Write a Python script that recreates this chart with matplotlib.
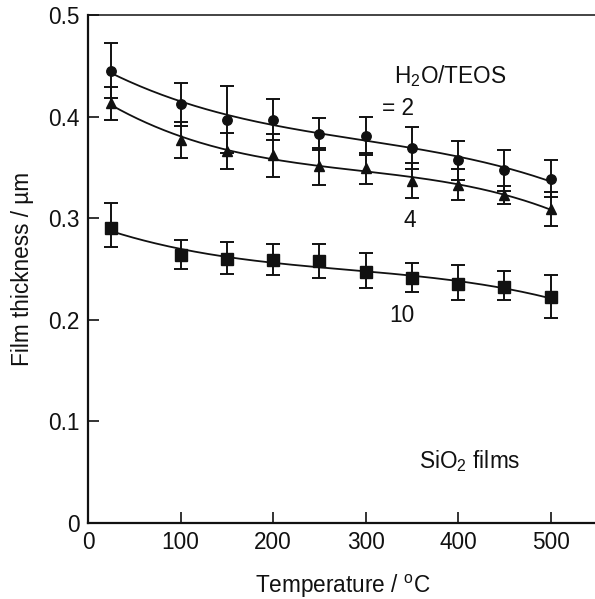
import numpy as np
import matplotlib
matplotlib.use("Agg")
import matplotlib.pyplot as plt

plt.rcParams['font.family'] = ['Liberation Sans', 'DejaVu Sans']
plt.rcParams['mathtext.fontset'] = 'custom'
plt.rcParams['mathtext.rm'] = 'Liberation Sans'
plt.rcParams['mathtext.it'] = 'Liberation Sans'

# Data
temperature = [25, 100, 150, 200, 250, 300, 350, 400, 450, 500]

ratio2 = [0.445, 0.412, 0.397, 0.397, 0.383, 0.381, 0.369, 0.357, 0.347, 0.339]
ratio2_err = [0.027, 0.021, 0.033, 0.020, 0.016, 0.019, 0.021, 0.019, 0.020, 0.018]

ratio4 = [0.413, 0.377, 0.366, 0.362, 0.351, 0.349, 0.337, 0.333, 0.323, 0.309]
ratio4_err = [0.016, 0.018, 0.018, 0.021, 0.018, 0.015, 0.017, 0.015, 0.009, 0.017]

ratio10 = [0.290, 0.264, 0.260, 0.259, 0.258, 0.247, 0.241, 0.235, 0.232, 0.222]
ratio10_err_low = [0.018, 0.014, 0.015, 0.015, 0.017, 0.016, 0.014, 0.016, 0.013, 0.020]
ratio10_err_high = [0.025, 0.015, 0.017, 0.016, 0.017, 0.019, 0.015, 0.019, 0.016, 0.022]

x_ticks = [0, 100, 200, 300, 400, 500]
y_ticks = [0, 0.1, 0.2, 0.3, 0.4, 0.5]
y_tick_labels = ['0', '0.1', '0.2', '0.3', '0.4', '0.5']

FS = 16.3
col = '#111111'

fig = plt.figure(figsize=(5.95, 5.99), dpi=100)
ax = fig.add_axes([88/595, 1-523/599, (597-88)/595, (523-15)/599])

series = [
    (ratio2, [ratio2_err, ratio2_err], 'o', 6.8),
    (ratio4, [ratio4_err, ratio4_err], '^', 7.5),
    (ratio10, [ratio10_err_low, ratio10_err_high], 's', 9.0),
]

t = np.array(temperature, dtype=float)
xs = np.linspace(25, 500, 200)
for vals, err, mk, ms in series:
    v = np.array(vals)
    coef = np.polyfit(t, v, 3)
    ax.plot(xs, np.polyval(coef, xs), color=col, lw=1.3, zorder=2)
    ax.errorbar(t, v, yerr=np.array(err), fmt=mk, color=col, ms=ms,
                mec=col, mfc=col, ecolor=col, elinewidth=1.4, capsize=4.8,
                capthick=1.4, zorder=3)

ax.set_xlim(0, 550)
ax.set_ylim(0, 0.5)
ax.set_xticks(x_ticks)
ax.set_yticks(y_ticks)
ax.set_yticklabels(y_tick_labels)
ax.tick_params(direction='in', length=8, width=1.2, labelsize=FS, pad=6,
               colors=col)
for s in ['left', 'bottom']:
    ax.spines[s].set_linewidth(1.6)
    ax.spines[s].set_color(col)
ax.spines['top'].set_linewidth(1.1)
ax.spines['top'].set_color(col)
ax.spines['right'].set_visible(False)

ax.set_xlabel('Temperature / $^{\\mathrm{o}}$C', fontsize=FS, color=col, labelpad=13)
ax.set_ylabel('Film thickness / \u00b5m', fontsize=FS, color=col, labelpad=10.5)

ax.text(330.5, 0.4328, 'H$_2$O/TEOS', fontsize=FS, color=col, ha='left', va='baseline')
ax.text(317.5, 0.4013, '= 2', fontsize=FS, color=col, ha='left', va='baseline')
ax.text(341, 0.2912, '4', fontsize=FS, color=col, ha='left', va='baseline')
ax.text(325, 0.1977, '10', fontsize=FS, color=col, ha='left', va='baseline')
ax.text(357.5, 0.0538, 'SiO$_2$ films', fontsize=FS, color=col, ha='left', va='baseline')

fig.savefig('out.png', dpi=100)
